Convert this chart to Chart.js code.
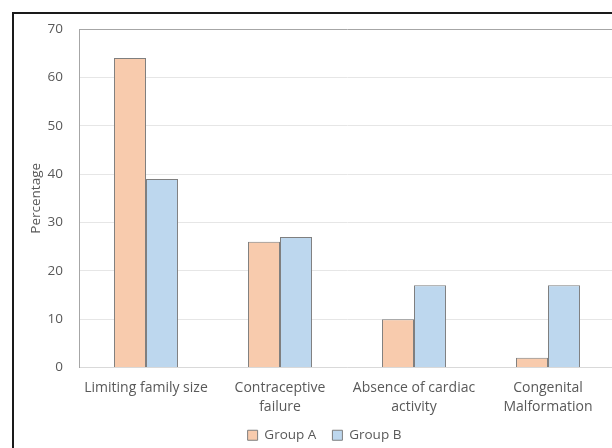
<!DOCTYPE html>
<html>
<head>
<meta charset="utf-8">
<script src="https://cdn.jsdelivr.net/npm/chart.js@4"></script>
<style>
  html, body { margin: 0; padding: 0; overflow: hidden; background: #fff; width: 612px; height: 448px; }
  #frame {
    position: absolute; left: 12px; top: 12px;
    width: 640px; height: 460px;
    border-left: 2px solid #1a1a1a; border-top: 2px solid #1a1a1a;
  }
  #wrap { position: absolute; left: 12px; top: 5px; width: 620px; height: 443px; }
</style>
</head>
<body>
<div id="frame"></div>
<div id="wrap"><canvas id="chart"></canvas></div>
<script>
// =============================================================================
// DATA
// =============================================================================

const categories = [
  'Limiting family size',
  ['Contraceptive', 'failure'],
  ['Absence of cardiac', 'activity'],
  ['Congenital', 'Malformation']
];
const groupA = [64, 26, 10, 2];
const groupB = [39, 27, 17, 17];
const yTicks = [0, 10, 20, 30, 40, 50, 60, 70];

// =============================================================================
// CHART
// =============================================================================

const FONT = "'Open Sans', sans-serif";
const TEXT = '#595959';

// Legend is laid out tight (padding 2), then drawn with wider item spacing
// and nudged so it sits centred under the whole frame like the original.
// Only the top edge moves up, so the legend's clip box still covers the text.
const legendTweak = {
  id: 'legendTweak',
  afterLayout(chart) {
    const lg = chart.legend;
    lg.options.labels.padding = 16;
    lg.left -= 3;
    lg.right -= 3;
    lg.top -= 10;
  }
};

new Chart(document.getElementById('chart'), {
  type: 'bar',
  data: {
    labels: categories,
    datasets: [
      {
        label: 'Group A',
        data: groupA,
        backgroundColor: '#F8CBAD',
        borderColor: '#7f7f7f',
        borderWidth: 1,
        barPercentage: 1,
        categoryPercentage: 0.478
      },
      {
        label: 'Group B',
        data: groupB,
        backgroundColor: '#BDD7EE',
        borderColor: '#7f7f7f',
        borderWidth: 1,
        barPercentage: 1,
        categoryPercentage: 0.478
      }
    ]
  },
  plugins: [legendTweak],
  options: {
    responsive: true,
    maintainAspectRatio: false,
    animation: false,
    layout: { padding: { top: 0, right: 17, left: 0, bottom: 0 } },
    plugins: {
      tooltip: { enabled: false },
      legend: {
        position: 'bottom',
        labels: {
          font: { family: FONT, size: 13.5 },
          color: TEXT,
          boxWidth: 10,
          boxHeight: 10,
          padding: 2
        }
      }
    },
    scales: {
      x: {
        grid: { display: false, drawTicks: false },
        border: { display: true, color: '#d9d9d9' },
        ticks: {
          font: { family: FONT, size: 14, lineHeight: 1.36 },
          color: TEXT,
          maxRotation: 0,
          autoSkip: false,
          padding: 11
        },
        afterFit: (scale) => { scale.height = 55; }
      },
      y: {
        min: 0,
        max: 70,
        afterBuildTicks: (scale) => { scale.ticks = yTicks.map(v => ({ value: v })); },
        grid: {
          drawTicks: false,
          color: (ctx) => ctx.tick && ctx.tick.value === 70 ? '#a6a6a6' : '#e6e6e6'
        },
        border: { display: true, color: '#a6a6a6' },
        ticks: {
          font: { family: FONT, size: 13.5 },
          color: TEXT,
          padding: 16
        },
        title: {
          display: true,
          text: 'Percentage',
          font: { family: FONT, size: 13.5 },
          color: TEXT,
          padding: { top: 16, bottom: 0 }
        },
        afterFit: (scale) => { scale.width = 67; }
      }
    }
  }
});
</script>
</body>
</html>
